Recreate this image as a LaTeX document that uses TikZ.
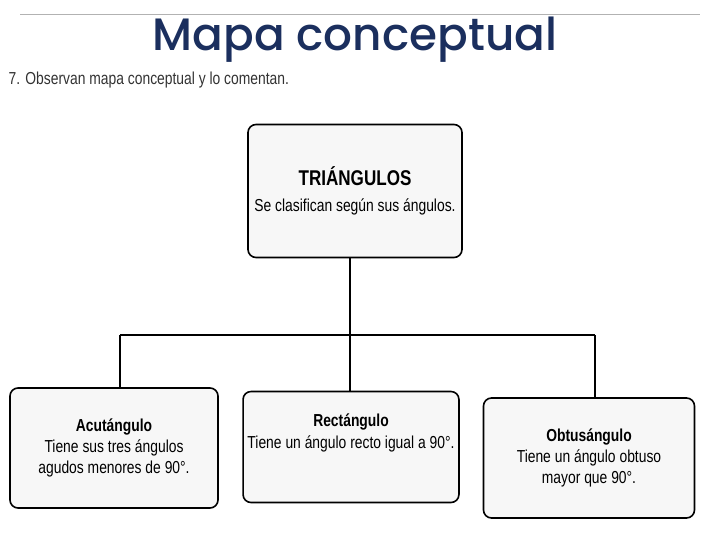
\documentclass[tikz,border=0pt]{standalone}
\usepackage{fontspec}
\setmainfont{Liberation Sans}[FakeStretch=0.8]
\newfontfamily\titlefont{Poppins Medium}
\definecolor{navy}{HTML}{1B2F5E}
\begin{document}
\begin{tikzpicture}[x=0.75pt,y=-0.75pt,
  cbox/.style={draw,line width=1.2pt,rounded corners=6pt,fill=gray!6,align=center,font=\fontsize{13}{16}\selectfont},
  ln/.style={line width=1pt}]
\useasboundingbox[fill=white] (0,0) rectangle (728,546);
\draw[gray!60] (20,14) -- (700,14);
\node[font=\titlefont\fontsize{34}{36}\selectfont,text=navy] (title) at (355,40) {Mapa conceptual};
\node[anchor=west,font=\fontsize{13}{15}\selectfont,text=black!80] (sub) at (4,80) {7. Observan mapa conceptual y lo comentan.};
\node[cbox,minimum width=214*0.75pt,minimum height=133*0.75pt] (top) at (355,191) {{\fontsize{16}{18}\selectfont\textbf{TRIÁNGULOS}}\\[4pt]Se clasifican según sus ángulos.};
\node[cbox,minimum width=208*0.75pt,minimum height=120*0.75pt] (a) at (114,448) {\textbf{Acutángulo}\\Tiene sus tres ángulos\\agudos menores de 90°.};
\node[cbox,minimum width=213*0.75pt,minimum height=111*0.75pt] (b) at (351,447) {\textbf{Rectángulo}\\Tiene un ángulo recto igual a 90°.\\[8pt]};
\node[cbox,minimum width=211*0.75pt,minimum height=120*0.75pt] (c) at (589,458) {\textbf{Obtusángulo}\\Tiene un ángulo obtuso\\mayor que 90°.};
\coordinate (j) at (350,335);
\draw[ln] (j |- top.south) -- (j);
\draw[ln] (120,335) coordinate (l) -- (595,335) coordinate (r);
\draw[ln] (l) -- (l |- a.north);
\draw[ln] (j) -- (j |- b.north);
\draw[ln] (r) -- (r |- c.north);
\end{tikzpicture}
\end{document}
